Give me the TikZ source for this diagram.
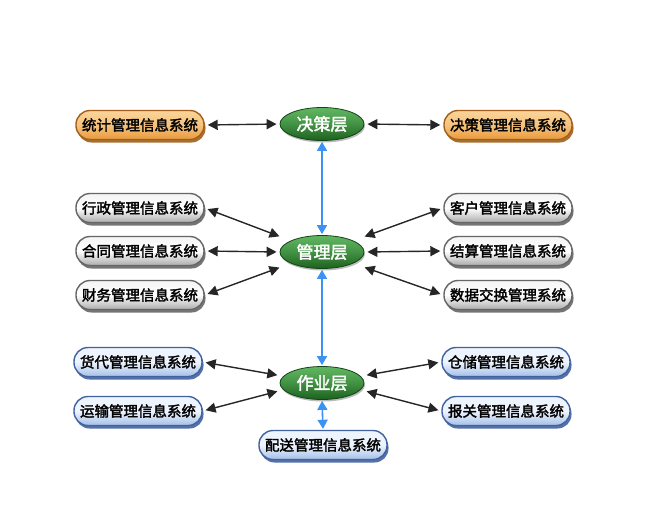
\documentclass[tikz,border=0pt]{standalone}
\usepackage{fontspec}
\setmainfont{Noto Sans CJK SC}
\newfontfamily\heavycjk{Noto Sans CJK SC}[FakeBold=2.2]
\usepackage{xcolor}
\usepackage{tikz}
\usetikzlibrary{shapes.geometric}
\usetikzlibrary{arrows.meta}
\usetikzlibrary{shadows}

\definecolor{orlight}{HTML}{FBD49A}
\definecolor{ordark}{HTML}{E99A3C}
\definecolor{oredge}{HTML}{A0601C}
\definecolor{grlight}{HTML}{F4F4F4}
\definecolor{grdark}{HTML}{ABABAB}
\definecolor{gredge}{HTML}{666666}
\definecolor{bllight}{HTML}{EEF4FD}
\definecolor{bldark}{HTML}{A4BFE8}
\definecolor{bledge}{HTML}{42629F}
\definecolor{gnlight}{HTML}{62B862}
\definecolor{gndark}{HTML}{1C621F}
\definecolor{linkblue}{HTML}{3C92F2}

\begin{document}
\begin{tikzpicture}[x=1pt, y=-1pt,
	sysbox/.style={rounded corners=14pt, minimum width=128pt, minimum height=29pt, inner sep=0pt, line width=1.4pt, font=\heavycjk\fontsize{14.5}{14.5}\selectfont},
	orbox/.style={sysbox, draw=oredge, top color=orlight, bottom color=ordark, middle color=orlight!70!ordark, drop shadow={shadow xshift=1.5pt, shadow yshift=-3pt, fill=oredge, opacity=0.9}},
	grbox/.style={sysbox, draw=gredge, top color=grlight, bottom color=grdark, middle color=white, drop shadow={shadow xshift=1.5pt, shadow yshift=-3pt, fill=gredge, opacity=0.9}},
	blbox/.style={sysbox, draw=bledge, top color=bllight, bottom color=bldark, middle color=bllight, drop shadow={shadow xshift=1.5pt, shadow yshift=-3pt, fill=bledge, opacity=0.9}},
	layer/.style={ellipse, minimum width=84pt, minimum height=33pt, inner sep=0pt, draw=gndark!70!black, line width=0.8pt, top color=gnlight, bottom color=gndark, middle color=gnlight!55!gndark, text=white, font=\heavycjk\fontsize{17}{17}\selectfont, drop shadow={shadow xshift=1pt, shadow yshift=-2pt, fill=black!45, opacity=0.6}},
	link/.style={{Triangle[length=10pt,width=10pt]}-{Triangle[length=10pt,width=10pt]}, draw=black!85, line width=1.4pt, shorten <=3pt, shorten >=3pt},
	uplink/.style={{Triangle[length=9pt,width=10pt]}-{Triangle[length=9pt,width=10pt]}, draw=linkblue, line width=1.6pt, shorten <=1pt, shorten >=1pt}]
	\useasboundingbox[fill=white] (0,0) rectangle (664,523);
	% layers
	\node[layer] (jc) at (322,124) {决策层};
	\node[layer] (gl) at (322,252) {管理层};
	\node[layer] (zy) at (322,383) {作业层};
	% left systems
	\node[orbox] (tj) at (140,125) {统计管理信息系统};
	\node[grbox] (xz) at (140,208) {行政管理信息系统};
	\node[grbox] (ht) at (140,251) {合同管理信息系统};
	\node[grbox] (cw) at (140,295) {财务管理信息系统};
	\node[blbox] (hd) at (138,362) {货代管理信息系统};
	\node[blbox] (ys) at (138,411) {运输管理信息系统};
	% right systems
	\node[orbox] (jcs) at (508,125) {决策管理信息系统};
	\node[grbox] (kh) at (508,208) {客户管理信息系统};
	\node[grbox] (js) at (508,251) {结算管理信息系统};
	\node[grbox] (sj) at (508,295) {数据交换管理系统};
	\node[blbox] (cc) at (506,362) {仓储管理信息系统};
	\node[blbox] (bg) at (506,411) {报关管理信息系统};
	\node[blbox] (ps) at (323,445) {配送管理信息系统};
	% links
	\draw[uplink] (jc.south) -- (gl.north);
	\draw[uplink] (gl.south) -- (zy.north);
	\draw[uplink] (zy.south) -- (ps.north);
	\draw[link] (tj.east) -- (jc.west);
	\draw[link] (jc.east) -- (jcs.west);
	\draw[link, shorten >=12pt] (xz.east) -- (gl.160);
	\draw[link] (ht.east) -- (gl.west);
	\draw[link, shorten >=12pt] (cw.east) -- (gl.200);
	\draw[link, shorten <=12pt] (gl.20) -- (kh.west);
	\draw[link] (gl.east) -- (js.west);
	\draw[link, shorten <=12pt] (gl.-20) -- (sj.west);
	\draw[link, shorten >=6pt] (hd.east) -- (zy.170);
	\draw[link, shorten >=6pt] (ys.east) -- (zy.190);
	\draw[link, shorten <=6pt] (zy.10) -- (cc.west);
	\draw[link, shorten <=6pt] (zy.-10) -- (bg.west);
\end{tikzpicture}
\end{document}
